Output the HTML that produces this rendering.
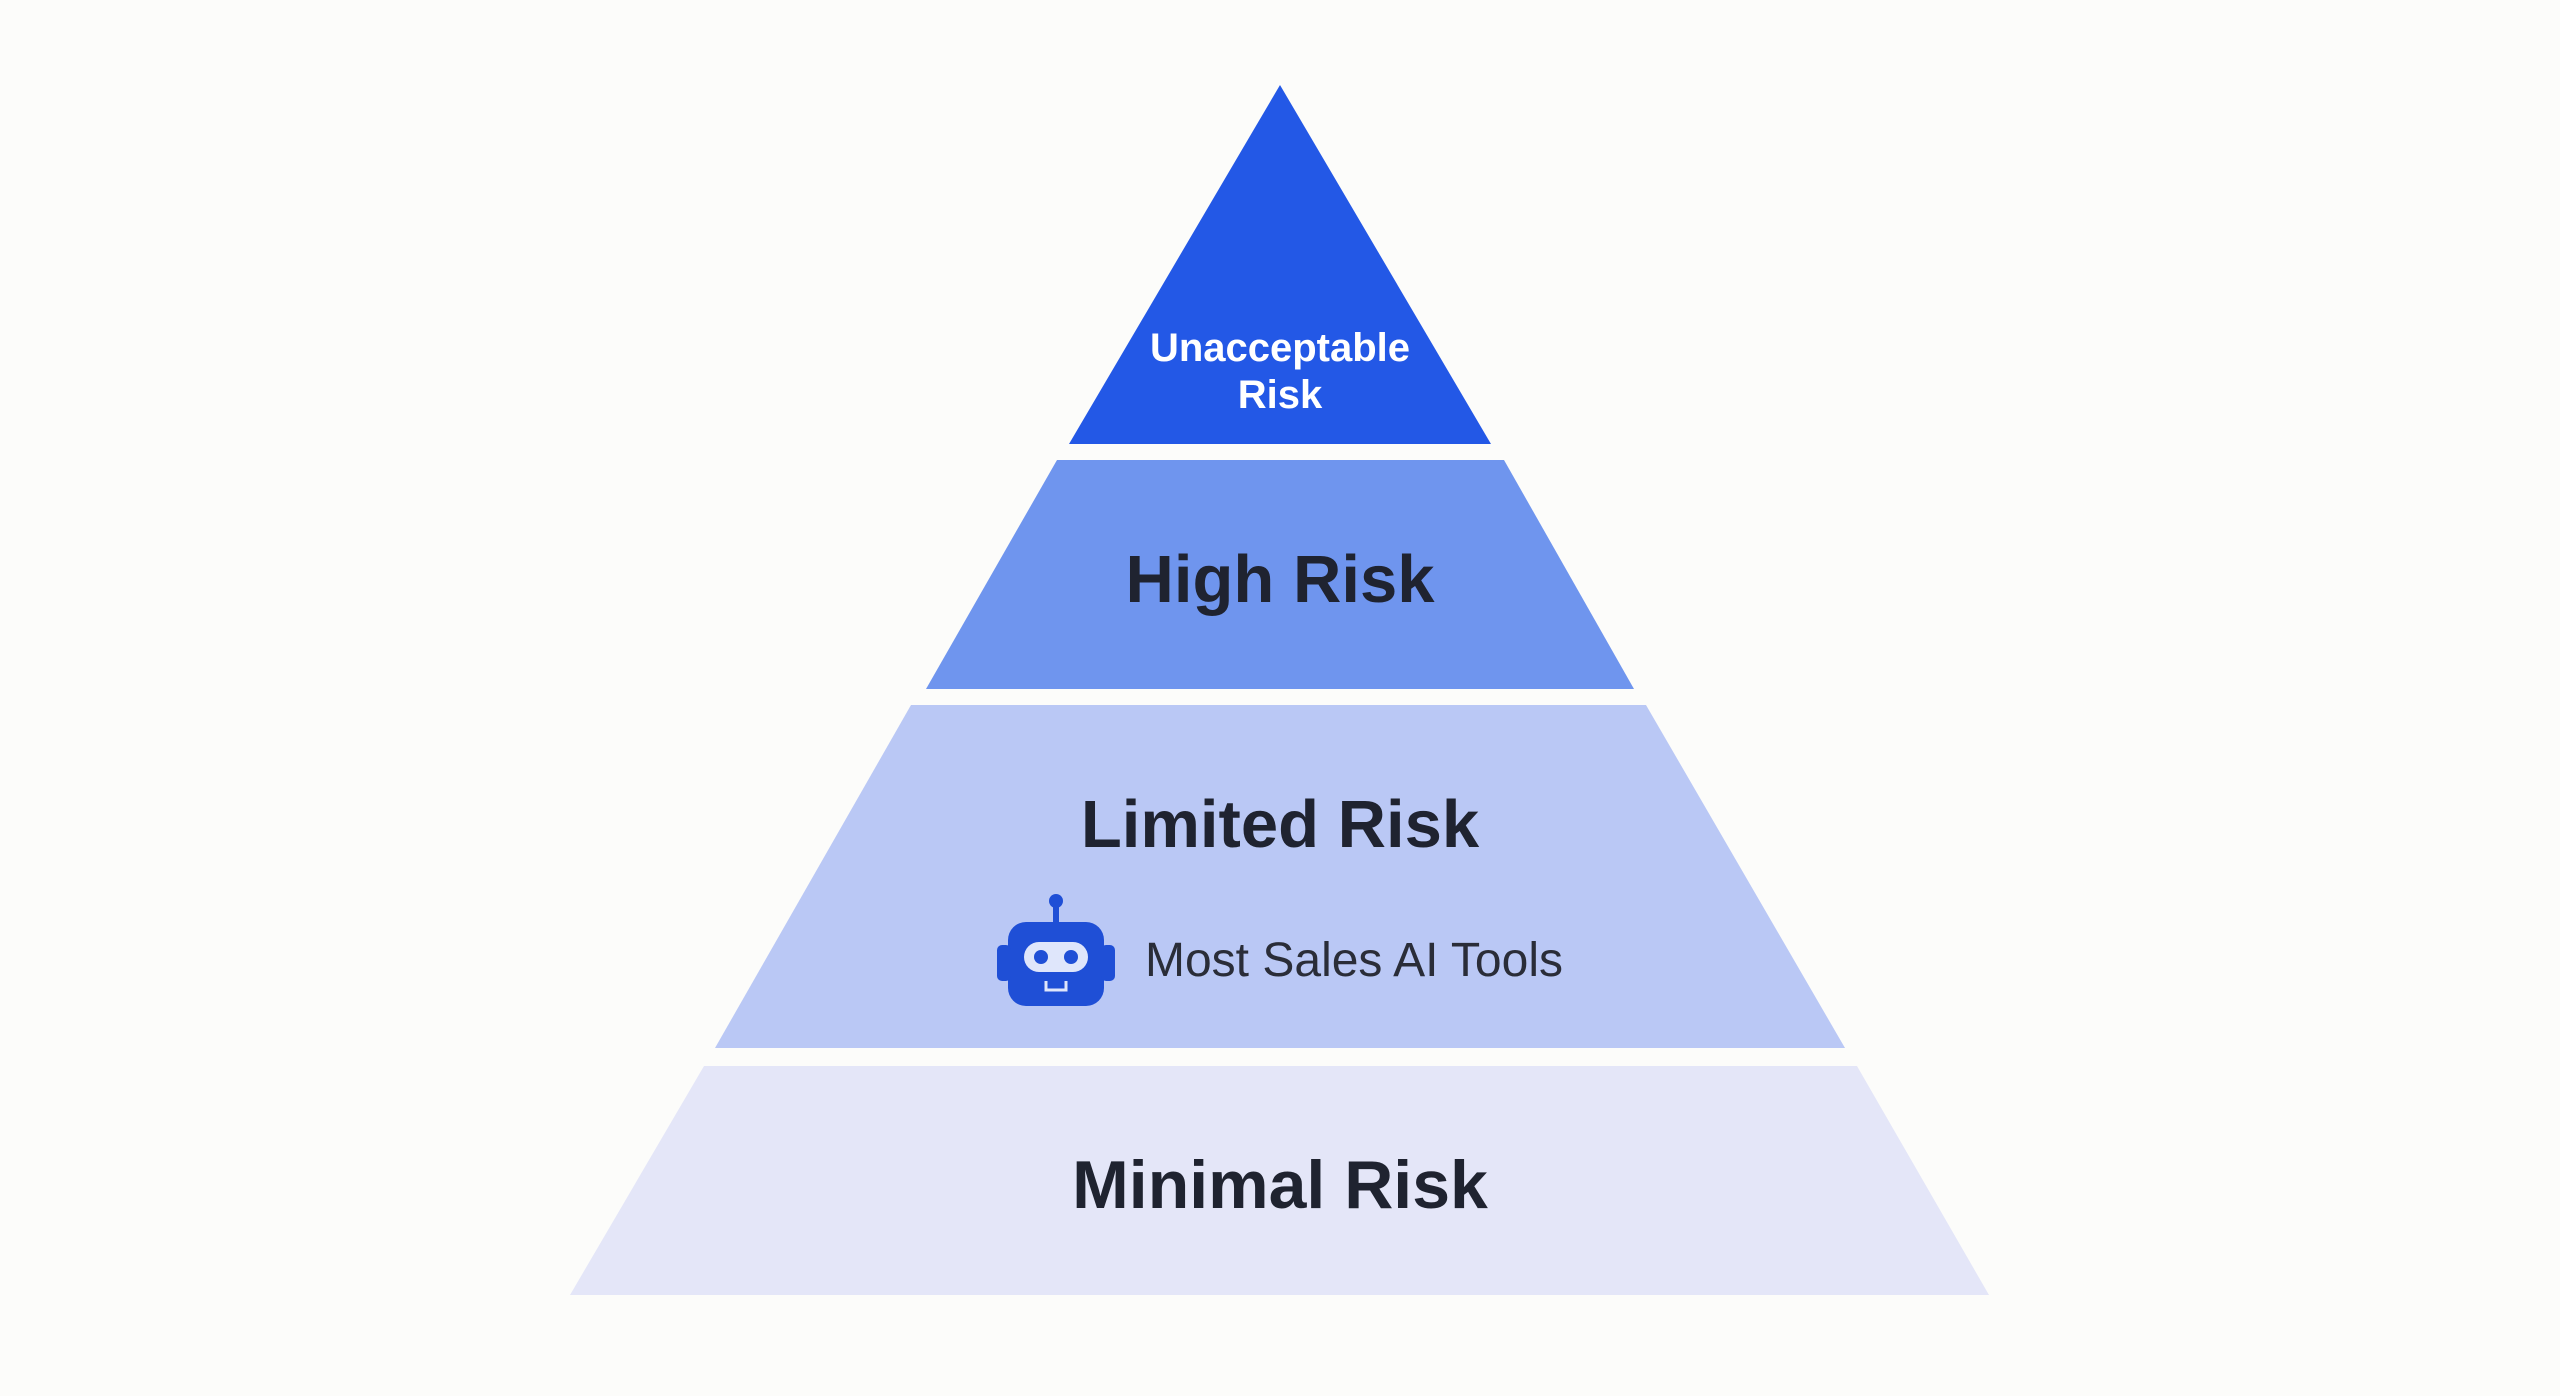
<!DOCTYPE html>
<html><head><meta charset="utf-8"><style>
html,body{margin:0;padding:0;background:#fcfcfa;}
svg{display:block}
text{font-family:"Liberation Sans",sans-serif;}
</style></head><body>
<svg width="2560" height="1396" viewBox="0 0 2560 1396" xmlns="http://www.w3.org/2000/svg">
<rect width="2560" height="1396" fill="#fcfcfa"/>
<polygon points="1280,85 1491,444 1069,444" fill="#2358e6"/>
<polygon points="1057,460 1504,460 1634,689 926,689" fill="#6f95ee"/>
<polygon points="911,705 1646,705 1845,1048 715,1048" fill="#bac8f5"/>
<polygon points="704,1066 1857,1066 1989,1295 570,1295" fill="#e4e6f8"/>
<text x="1280" y="361" text-anchor="middle" font-size="40" font-weight="bold" fill="#fff">Unacceptable</text>
<text x="1280" y="408" text-anchor="middle" font-size="40" font-weight="bold" fill="#fff">Risk</text>
<text x="1280" y="602" text-anchor="middle" font-size="67" font-weight="bold" fill="#1f2330">High Risk</text>
<text x="1280" y="847" text-anchor="middle" font-size="67" font-weight="bold" fill="#1f2330">Limited Risk</text>
<text x="1280" y="1208" text-anchor="middle" font-size="68" font-weight="bold" fill="#1f2330">Minimal Risk</text>
<!-- robot -->
<g fill="#1f4fd6">
<circle cx="1056" cy="901" r="7"/>
<rect x="1053" y="903" width="6" height="22"/>
<rect x="1008" y="922" width="96" height="84" rx="18"/>
<rect x="997" y="945" width="14" height="36" rx="5"/>
<rect x="1101" y="945" width="14" height="36" rx="5"/>
</g>
<rect x="1024" y="942" width="64" height="30" rx="15" fill="#dfe6fb"/>
<circle cx="1041" cy="957" r="7" fill="#1f4fd6"/>
<circle cx="1071" cy="957" r="7" fill="#1f4fd6"/>
<path d="M1046 981 v9 h20 v-9" stroke="#dfe6fb" stroke-width="3" fill="none"/>
<text x="1145" y="976" font-size="48" fill="#2a2d38">Most Sales AI Tools</text>
</svg>
</body></html>
